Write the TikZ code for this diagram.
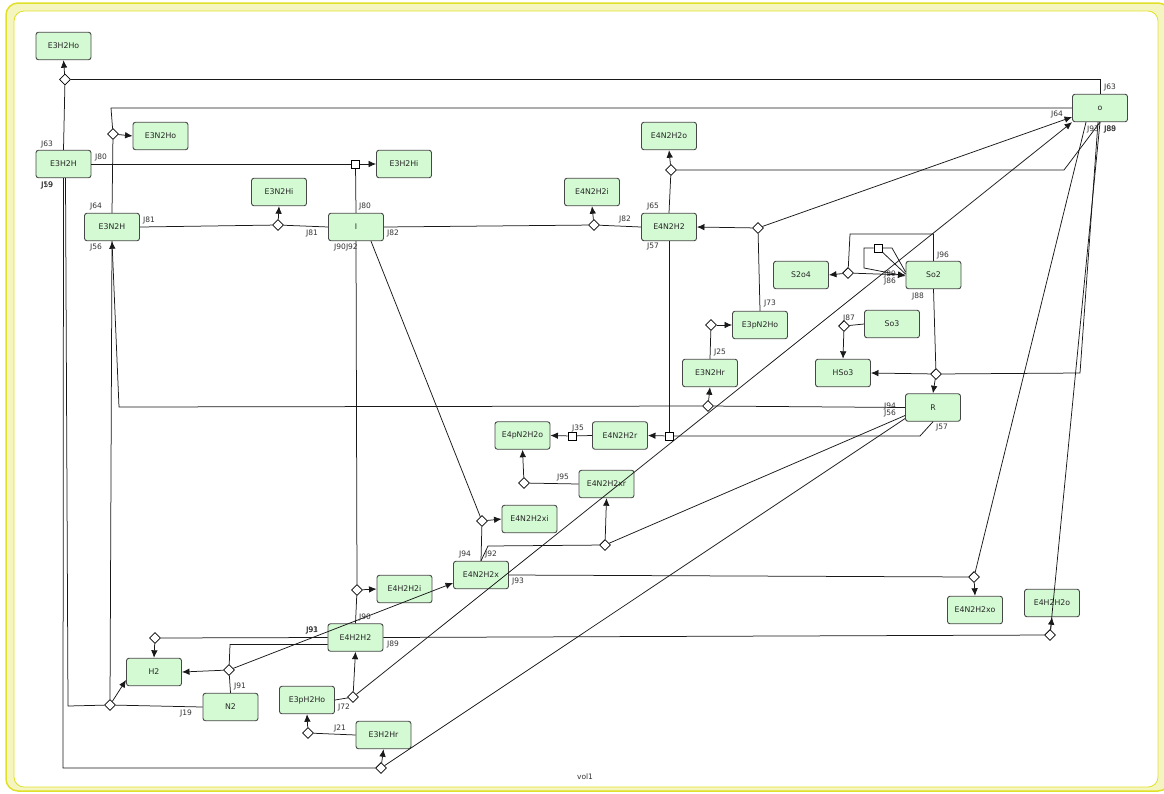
\documentclass[tikz,border=0pt]{standalone}
\usepackage{fontspec}
\newfontfamily\dvsans{DejaVu Sans}
\usetikzlibrary{shapes.geometric,arrows.meta}
\definecolor{boxgreen}{RGB}{212,250,212}
\definecolor{frameline}{RGB}{224,224,40}
\definecolor{framefill}{RGB}{245,245,192}
\pgfdeclarelayer{junctions}
\pgfsetlayers{main,junctions}
\tikzset{
  box/.style={draw=black!72, fill=boxgreen, rounded corners=2.5pt, line width=0.9pt,
    minimum width=55pt, minimum height=27.5pt, inner sep=0pt,
    font=\dvsans\fontsize{7.8}{9}\selectfont, text=black!85},
  jd/.style={diamond, draw=black, fill=white, inner sep=0pt, minimum size=11pt, line width=0.8pt},
  jsq/.style={rectangle, draw=black, fill=white, inner sep=0pt, minimum size=8pt, line width=0.8pt},
  ln/.style={draw=black!90, line width=0.75pt},
  ar/.style={ln, -{Latex[length=7.5pt,width=6.5pt]}},
  lbl/.style={font=\dvsans\fontsize{7.5}{8}\selectfont, text=black!80, inner sep=0pt}
}
\begin{document}
\begin{tikzpicture}[x=1pt,y=-1pt]
\useasboundingbox (0,0) rectangle (1164,793);
% frame
\draw[fill=framefill, draw=frameline, line width=1.5pt, rounded corners=12pt] (6,3) rectangle (1170,791);
\draw[fill=white, draw=frameline, line width=0.8pt, rounded corners=10pt] (14,11) rectangle (1158,787);

% species
\node[box] (e3h2ho) at (63.5,46) {E3H2Ho};
\node[box] (e3n2ho) at (160.5,136) {E3N2Ho};
\node[box] (e3h2h) at (63.5,164) {E3H2H};
\node[box] (e3h2hi) at (404,164) {E3H2Hi};
\node[box] (e3n2hi) at (279,192) {E3N2Hi};
\node[box] (e3n2h) at (112,227) {E3N2H};
\node[box] (nI) at (356,227) {I};
\node[box] (e4n2h2i) at (592,192) {E4N2H2i};
\node[box] (e4n2h2o) at (669,136) {E4N2H2o};
\node[box] (e4n2h2) at (669,227) {E4N2H2};
\node[box] (e3pn2ho) at (760,325) {E3pN2Ho};
\node[box] (e3n2hr) at (710,373) {E3N2Hr};
\node[box] (hso3) at (843,373) {HSo3};
\node[box] (so3) at (892,324) {So3};
\node[box] (s2o4) at (801,275) {S2o4};
\node[box] (so2) at (933.5,275) {So2};
\node[box] (nO) at (1100,108) {o};
\node[box] (nR) at (933,407.5) {R};
\node[box] (e4n2h2xo) at (975,610) {E4N2H2xo};
\node[box] (e4h2h2o) at (1052,603) {E4H2H2o};
\node[box] (e4pn2h2o) at (522.5,435.5) {E4pN2H2o};
\node[box] (e4n2h2r) at (620,435.5) {E4N2H2r};
\node[box] (e4n2h2xr) at (606.5,484) {E4N2H2xr};
\node[box] (e4n2h2xi) at (529.5,519) {E4N2H2xi};
\node[box] (e4n2h2x) at (481,575) {E4N2H2x};
\node[box] (e4h2h2i) at (404.5,589) {E4H2H2i};
\node[box] (e4h2h2) at (355.5,637.5) {E4H2H2};
\node[box] (h2) at (154,672) {H2};
\node[box] (n2) at (230.5,707) {N2};
\node[box] (e3ph2ho) at (307,700) {E3pH2Ho};
\node[box] (e3h2hr) at (383.5,735) {E3H2Hr};

% reaction junctions
\begin{pgfonlayer}{junctions}
\node[jd] (dA) at (65,79.5) {};
\node[jd] (dB) at (113,134) {};
\node[jsq] (sC) at (355.5,164) {};
\node[jd] (dD) at (278,225) {};
\node[jd] (dE) at (594,225) {};
\node[jd] (dF) at (671,170) {};
\node[jd] (dG) at (758,228) {};
\node[jd] (dH) at (711,325) {};
\node[jd] (dI) at (708,406) {};
\node[jd] (dJ) at (844,326) {};
\node[jd] (dK) at (848,273) {};
\node[jsq] (sL) at (878,248) {};
\node[jd] (dM) at (936,374) {};
\node[jsq] (sN) at (669,436) {};
\node[jsq] (sO) at (572,436) {};
\node[jd] (dP) at (524,483) {};
\node[jd] (dQ) at (605,545) {};
\node[jd] (dR) at (482,521) {};
\node[jd] (dS) at (974,577) {};
\node[jd] (dT) at (1050,635) {};
\node[jd] (dU) at (155,638) {};
\node[jd] (dV) at (229,670) {};
\node[jd] (dW) at (357,590) {};
\node[jd] (dX) at (110,705) {};
\node[jd] (dY) at (353,697) {};
\node[jd] (dZ) at (308,733) {};
\node[jd] (dAA) at (381,768) {};
\end{pgfonlayer}

% bend points
\coordinate (bB) at (111,108);
\coordinate (bF) at (1064,170);
\coordinate (bI) at (119,407);
\coordinate (bK1) at (850,234);
\coordinate (bK2) at (933.5,234);
\coordinate (bL1) at (864,248);
\coordinate (bL2) at (864,268);
\coordinate (bL3) at (892,248);
\coordinate (bM) at (1080,373);
\coordinate (bN) at (920,436);
\coordinate (bQ) at (488,546);
\coordinate (bV) at (230,644.5);
\coordinate (bX) at (68,706);
\coordinate (bAA) at (63,768);

% connectors
\draw[ln] (e3h2h.north) -- (dA);
\draw[ar] (dA) -- (e3h2ho.south);
\draw[ln] (dA) -- (dA -| nO.north) -- (nO.north);

\draw[ln] (nO.west) -- (bB) -- (dB);
\draw[ln] (dB) -- (e3n2h.north);
\draw[ar] (dB) -- (e3n2ho.west);

\draw[ln] (e3h2h.east) -- (sC);
\draw[ar] (sC) -- (e3h2hi.west);
\draw[ln] (sC) -- (nI.north);

\draw[ln] (e3n2h.east) -- (dD);
\draw[ln] (dD) -- (nI.west);
\draw[ar] (dD) -- (e3n2hi.south);

\draw[ln] (nI.east) -- (dE);
\draw[ln] (dE) -- (e4n2h2.west);
\draw[ar] (dE) -- (e4n2h2i.south);

\draw[ln] (e4n2h2.north) -- (dF);
\draw[ar] (dF) -- (e4n2h2o.south);
\draw[ln] (dF) -- (bF) -- (nO.south);

\draw[ar] (dG) -- (e4n2h2.east);
\draw[ar] (dG) -- ([yshift=-9pt]nO.west);
\draw[ln] (dG) -- (e3pn2ho.north);

\draw[ln] (e3n2hr.north) -- (dH);
\draw[ar] (dH) -- (e3pn2ho.west);

\draw[ar] (dI) -- (e3n2hr.south);
\draw[ln] (nR.west) -- (dI);
\draw[ar] (dI) -- (bI) -- (e3n2h.south);

\draw[ln] (so3.west) -- (dJ);
\draw[ar] (dJ) -- (hso3.north);

\draw[ar] (dK) -- (s2o4.east);
\draw[ar] (dK) -- (so2.west);
\draw[ln] (dK) -- (bK1) -- (bK2) -- (so2.north);

\draw[ar] (sL) -- (bL1) -- (bL2) -- ([yshift=-1pt]so2.west);
\draw[ln] (sL) -- (bL3) -- ([yshift=3pt]so2.west);
\draw[ln] (sL) -- ([yshift=1pt]so2.west);

\draw[ln] (so2.south) -- (dM);
\draw[ar] (dM) -- (hso3.east);
\draw[ar] (dM) -- (nR.north);
\draw[ln] (dM) -- (bM) -- ([xshift=-2pt]nO.south);

\draw[ln] (nR.south) -- (bN) -- (sN);
\draw[ar] (sN) -- (e4n2h2r.east);
\draw[ln] (sN) -- (e4n2h2.south);

\draw[ln] (e4n2h2r.west) -- (sO);
\draw[ar] (sO) -- (e4pn2h2o.east);

\draw[ln] (e4n2h2xr.west) -- (dP);
\draw[ar] (dP) -- (e4pn2h2o.south);

\draw[ar] (dQ) -- (e4n2h2xr.south);
\draw[ln] (dQ) -- ([yshift=-8pt]nR.west);
\draw[ln] (dQ) -- (bQ) -- (e4n2h2x.north);

\draw[ln] (e4n2h2x.north) -- (dR);
\draw[ar] (dR) -- (e4n2h2xi.west);
\draw[ln] (dR) -- ([xshift=15pt]nI.south);

\draw[ln] (e4n2h2x.east) -- (dS);
\draw[ar] (dS) -- (e4n2h2xo.north);
\draw[ln] (dS) -- ([xshift=-14pt]nO.south);

\draw[ln] (e4h2h2.east) -- (dT);
\draw[ar] (dT) -- (e4h2h2o.south);
\draw[ln] (dT) -- (nO.south);

\draw[ln] (e4h2h2.west) -- (dU);
\draw[ar] (dU) -- (h2.north);

\draw[ln] ([yshift=-7pt]e4h2h2.west) -- (bV) -- (dV);
\draw[ar] (dV) -- (h2.east);
\draw[ar] (dV) -- ([yshift=-8pt]e4n2h2x.west);
\draw[ln] (dV) -- (n2.north);

\draw[ln] (nI.south) -- (dW);
\draw[ar] (dW) -- (e4h2h2i.west);
\draw[ln] (dW) -- (e4h2h2.north);

\draw[ar] (dX) -- ([yshift=-8pt]h2.west);
\draw[ln] (n2.west) -- (dX);
\draw[ln] (dX) -- (bX) -- ([xshift=2pt]e3h2h.south);
\draw[ln] (dX) -- (e3n2h.south);

\draw[ln] (e3ph2ho.east) -- (dY);
\draw[ar] (dY) -- (e4h2h2.south);
\draw[ar] (dY) -- (nO.south west);

\draw[ln] (e3h2hr.west) -- (dZ);
\draw[ar] (dZ) -- (e3ph2ho.south);

\draw[ar] (dAA) -- (e3h2hr.south);
\draw[ln] (dAA) -- (bAA) -- (e3h2h.south);
\draw[ln] (dAA) -- ([yshift=-11pt]nR.west);

% reaction labels
\node[lbl] (t1) at (47,144) {J63};
\node[lbl] (t2) at (47,185) {J19};
\node[lbl] (t3) at (47.3,185) {J59};
\node[lbl] (t4) at (101,157) {J80};
\node[lbl] (t5) at (96,206) {J64};
\node[lbl] (t6) at (149,220) {J81};
\node[lbl] (t7) at (96,247) {J56};
\node[lbl] (t8) at (365,206) {J80};
\node[lbl] (t9) at (312,233) {J81};
\node[lbl] (t10) at (393,233) {J82};
\node[lbl] (t11) at (346,247) {J90J92};
\node[lbl] (t12) at (625,219) {J82};
\node[lbl] (t13) at (653,206) {J65};
\node[lbl] (t14) at (653,247) {J57};
\node[lbl] (t15) at (770,303) {J73};
\node[lbl] (t16) at (720,352) {J25};
\node[lbl] (t17) at (849,318) {J87};
\node[lbl] (t18) at (943,255) {J96};
\node[lbl] (t19) at (918,296) {J88};
\node[lbl] (t20) at (890,274) {J89};
\node[lbl] (t21) at (890,281) {J86};
\node[lbl] (t22) at (1110,87) {J63};
\node[lbl] (t23) at (1057,114) {J64};
\node[lbl] (t24) at (1093,129) {J93};
\node[lbl] (t25) at (1110,129) {J88};
\node[lbl] (t26) at (1110.3,129) {J89};
\node[lbl] (t27) at (578,428) {J35};
\node[lbl] (t28) at (563,477) {J95};
\node[lbl] (t29) at (465,554) {J94};
\node[lbl] (t30) at (491,554) {J92};
\node[lbl] (t31) at (518,581) {J93};
\node[lbl] (t32) at (890,406) {J94};
\node[lbl] (t33) at (890,413) {J56};
\node[lbl] (t34) at (942,428) {J57};
\node[lbl] (t35) at (312,630) {J93};
\node[lbl] (t36) at (312.3,630) {J91};
\node[lbl] (t37) at (365,617) {J90};
\node[lbl] (t38) at (393,644) {J89};
\node[lbl] (t39) at (240,686) {J91};
\node[lbl] (t40) at (186,713) {J19};
\node[lbl] (t41) at (344,707) {J72};
\node[lbl] (t42) at (340,728) {J21};
\node[lbl] (t43) at (585,777) {vol1};
\end{tikzpicture}
\end{document}
